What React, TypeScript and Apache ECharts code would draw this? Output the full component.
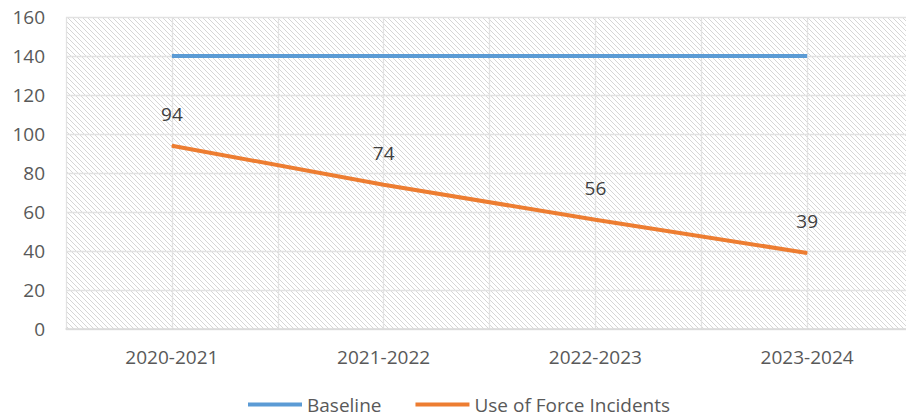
import React, { useEffect, useRef } from "react";
import * as echarts from "echarts";

const categories = ["2020-2021", "2021-2022", "2022-2023", "2023-2024"];
const baseline = [140, 140, 140, 140];
const incidents = [94, 74, 56, 39];
const yTicks = { min: 0, max: 160, interval: 20 };

const FONT = "'Open Sans', 'Noto Sans', sans-serif";

// Small tile of "\" diagonal hatching used as the plot-area fill.
function makeHatch(): HTMLCanvasElement {
  const s = 5;
  const c = document.createElement("canvas");
  c.width = s;
  c.height = s;
  const ctx = c.getContext("2d")!;
  ctx.fillStyle = "#ffffff";
  ctx.fillRect(0, 0, s, s);
  ctx.strokeStyle = "#d6d6d6";
  ctx.lineWidth = 1;
  ctx.beginPath();
  ctx.moveTo(-1, -1);
  ctx.lineTo(s + 1, s + 1);
  ctx.moveTo(-1, s - 1);
  ctx.lineTo(1, s + 1);
  ctx.moveTo(s - 1, -1);
  ctx.lineTo(s + 1, 1);
  ctx.stroke();
  return c;
}

export default function App() {
  const ref = useRef<HTMLDivElement>(null);

  useEffect(() => {
    if (!ref.current) return;
    const chart = echarts.init(ref.current, null, { renderer: "svg" });
    const toPairs = (arr: number[]) => arr.map((v, i) => [i, v]);
    chart.setOption({
      animation: false,
      textStyle: { fontFamily: FONT },
      grid: {
        show: true,
        left: 66,
        width: 847,
        top: 17,
        bottom: 90,
        borderWidth: 0,
        backgroundColor: { image: makeHatch(), repeat: "repeat" },
      },
      legend: {
        bottom: 0,
        left: 243,
        itemWidth: 54,
        itemHeight: 4,
        itemGap: 34,
        icon: "rect",
        textStyle: { fontFamily: FONT, fontSize: 19, color: "#595959" },
        data: ["Baseline", "Use of Force Incidents"],
      },
      xAxis: {
        type: "value",
        min: -0.5,
        max: 3.5,
        interval: 0.5,
        axisLine: { show: true, lineStyle: { color: "#d9d9d9", width: 1.5 } },
        axisTick: { show: false },
        splitLine: { show: true, lineStyle: { color: "#e2e2e2", width: 1.3 } },
        axisLabel: {
          margin: 18,
          fontFamily: FONT,
          fontSize: 19,
          color: "#595959",
          formatter: (v: number) =>
            Number.isInteger(v) && categories[v] ? categories[v] : "",
        },
      },
      yAxis: {
        type: "value",
        min: yTicks.min,
        max: yTicks.max,
        interval: yTicks.interval,
        axisLine: { show: false },
        axisTick: { show: false },
        splitLine: { lineStyle: { color: "#e2e2e2", width: 1.3 } },
        axisLabel: { margin: 21, fontFamily: FONT, fontSize: 19, color: "#595959" },
      },
      series: [
        {
          name: "Baseline",
          type: "line",
          data: toPairs(baseline),
          showSymbol: false,
          lineStyle: { color: "#5b9bd5", width: 4 },
          itemStyle: { color: "#5b9bd5" },
        },
        {
          name: "Use of Force Incidents",
          type: "line",
          data: toPairs(incidents),
          showSymbol: true,
          symbol: "circle",
          symbolSize: 1,
          lineStyle: { color: "#ed7d31", width: 4 },
          itemStyle: { color: "#ed7d31" },
          label: {
            show: true,
            position: "top",
            distance: 22,
            fontFamily: FONT,
            fontSize: 19,
            color: "#404040",
            formatter: (p: any) => String(p.value[1]),
          },
        },
      ],
    });
    return () => chart.dispose();
  }, []);

  return (
    <div
      style={{
        position: "fixed",
        left: 0,
        top: 0,
        width: 906,
        height: 419,
        overflow: "hidden",
        background: "#fff",
      }}
    >
      <div ref={ref} style={{ width: 930, height: 419 }} />
    </div>
  );
}
